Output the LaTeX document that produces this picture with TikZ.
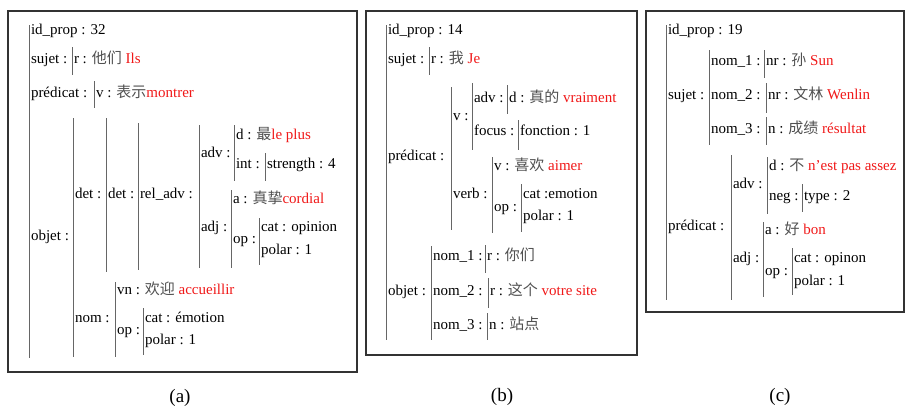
\documentclass[tikz,border=0pt]{standalone}
\usepackage{fontspec}
\setmainfont{Liberation Serif}
\newfontfamily\cjk{Noto Sans CJK SC}
\definecolor{frred}{HTML}{F01818}
\definecolor{zhgray}{HTML}{505050}
\newcommand{\zh}[1]{{\cjk\color{zhgray}#1}}
\newcommand{\fr}[1]{{\color{frred}#1}}
\tikzset{
  t/.style={anchor=mid west, inner sep=0pt, outer sep=0pt, font=\fontsize{15}{18}\selectfont},
  br/.style={draw=gray!80!black, line width=0.8pt},
  frame/.style={draw=black!80, line width=1.1pt},
  captxt/.style={inner sep=0pt, font=\fontsize{19}{22}\selectfont},
}
\begin{document}
\begin{tikzpicture}[x=1pt,y=-1pt]
\useasboundingbox (0,0) rectangle (905,410);
% ---------------- panel (a)
\draw[frame] (8,11) rectangle (357,372);
\node[captxt] (capa) at (180,398) {(a)};
\draw[br] (29,25) -- (29,358);
\node[t] (a1) at (31,32) {id\_prop : 32};
\node[t] (a2) at (31,61) {sujet :};
\draw[br] (72,47) -- (72,75);
\node[t] (a3) at (74,61) {r : \zh{他们} \fr{Ils}};
\node[t] (a4) at (31,95) {prédicat :};
\draw[br] (94,81) -- (94,108);
\node[t] (a5) at (96,95) {v : \zh{表示}\fr{montrer}};
\node[t] (a6) at (31,238) {objet :};
\draw[br] (73,118) -- (73,357);
\node[t] (a7) at (75,196) {det :};
\draw[br] (106,118) -- (106,272);
\node[t] (a8) at (108,196) {det :};
\draw[br] (138,123) -- (138,270);
\node[t] (a9) at (140,196) {rel\_adv :};
\draw[br] (199,125) -- (199,268);
\node[t] (a10) at (201,155) {adv :};
\draw[br] (234,125) -- (234,181);
\node[t] (a11) at (236,137) {d : \zh{最}\fr{le plus}};
\node[t] (a12) at (236,166) {int :};
\draw[br] (265,153) -- (265,181);
\node[t] (a13) at (267,166) {strength : 4};
\node[t] (a14) at (201,229) {adj :};
\draw[br] (231,190) -- (231,268);
\node[t] (a15) at (233,201) {a : \zh{真挚}\fr{cordial}};
\node[t] (a16) at (233,241) {op :};
\draw[br] (259,218) -- (259,265);
\node[t] (a17) at (261,229) {cat : opinion};
\node[t] (a18) at (261,252) {polar : 1};
\node[t] (a19) at (75,320) {nom :};
\draw[br] (115,282) -- (115,357);
\node[t] (a20) at (117,292) {vn : \zh{欢迎} \fr{accueillir}};
\node[t] (a21) at (117,332) {op :};
\draw[br] (143,308) -- (143,355);
\node[t] (a22) at (145,320) {cat : émotion};
\node[t] (a23) at (145,342) {polar : 1};
% ---------------- panel (b)
\draw[frame] (366,11) rectangle (637,355);
\node[captxt] (capb) at (502,397) {(b)};
\draw[br] (386,25) -- (386,340);
\node[t] (b1) at (388,32) {id\_prop : 14};
\node[t] (b2) at (388,61) {sujet :};
\draw[br] (429,47) -- (429,75);
\node[t] (b3) at (431,61) {r : \zh{我} \fr{Je}};
\node[t] (b4) at (388,158) {prédicat :};
\draw[br] (451,87) -- (451,230);
\node[t] (b5) at (453,118) {v :};
\draw[br] (472,83) -- (472,150);
\node[t] (b6) at (474,100) {adv :};
\draw[br] (507,85) -- (507,114);
\node[t] (b7) at (509,100) {d : \zh{真的} \fr{vraiment}};
\node[t] (b8) at (474,133) {focus :};
\draw[br] (518,120) -- (518,150);
\node[t] (b9) at (520,133) {fonction : 1};
\node[t] (b10) at (453,196) {verb :};
\draw[br] (492,157) -- (492,233);
\node[t] (b11) at (494,168) {v : \zh{喜欢} \fr{aimer}};
\node[t] (b12) at (494,209) {op :};
\draw[br] (521,184) -- (521,232);
\node[t] (b13) at (523,196) {cat :emotion};
\node[t] (b14) at (523,218) {polar : 1};
\node[t] (b15) at (388,293) {objet :};
\draw[br] (431,246) -- (431,340);
\node[t] (b16) at (433,258) {nom\_1 :};
\draw[br] (485,245) -- (485,273);
\node[t] (b17) at (487,258) {r : \zh{你们}};
\node[t] (b18) at (433,293) {nom\_2 :};
\draw[br] (488,278) -- (488,308);
\node[t] (b19) at (490,293) {r : \zh{这个} \fr{votre site}};
\node[t] (b20) at (433,327) {nom\_3 :};
\draw[br] (487,313) -- (487,340);
\node[t] (b21) at (489,327) {n : \zh{站点}};
% ---------------- panel (c)
\draw[frame] (646,11) rectangle (904,312);
\node[captxt] (capc) at (780,397) {(c)};
\draw[br] (666,25) -- (666,300);
\node[t] (c1) at (668,32) {id\_prop : 19};
\node[t] (c2) at (668,97) {sujet :};
\draw[br] (709,50) -- (709,145);
\node[t] (c3) at (711,63) {nom\_1 :};
\draw[br] (764,50) -- (764,78);
\node[t] (c4) at (766,63) {nr : \zh{孙} \fr{Sun}};
\node[t] (c5) at (711,97) {nom\_2 :};
\draw[br] (766,83) -- (766,113);
\node[t] (c6) at (768,97) {nr : \zh{文林} \fr{Wenlin}};
\node[t] (c7) at (711,131) {nom\_3 :};
\draw[br] (766,117) -- (766,145);
\node[t] (c8) at (768,131) {n : \zh{成绩} \fr{résultat}};
\node[t] (c9) at (668,228) {prédicat :};
\draw[br] (731,155) -- (731,300);
\node[t] (c10) at (733,186) {adv :};
\draw[br] (767,157) -- (767,214);
\node[t] (c11) at (769,168) {d : \zh{不} \fr{n’est pas assez}};
\node[t] (c12) at (769,198) {neg :};
\draw[br] (802,184) -- (802,212);
\node[t] (c13) at (804,198) {type : 2};
\node[t] (c14) at (733,260) {adj :};
\draw[br] (763,222) -- (763,297);
\node[t] (c15) at (765,232) {a : \zh{好} \fr{bon}};
\node[t] (c16) at (765,273) {op :};
\draw[br] (792,248) -- (792,295);
\node[t] (c17) at (794,260) {cat : opinon};
\node[t] (c18) at (794,283) {polar : 1};
\end{tikzpicture}
\end{document}
